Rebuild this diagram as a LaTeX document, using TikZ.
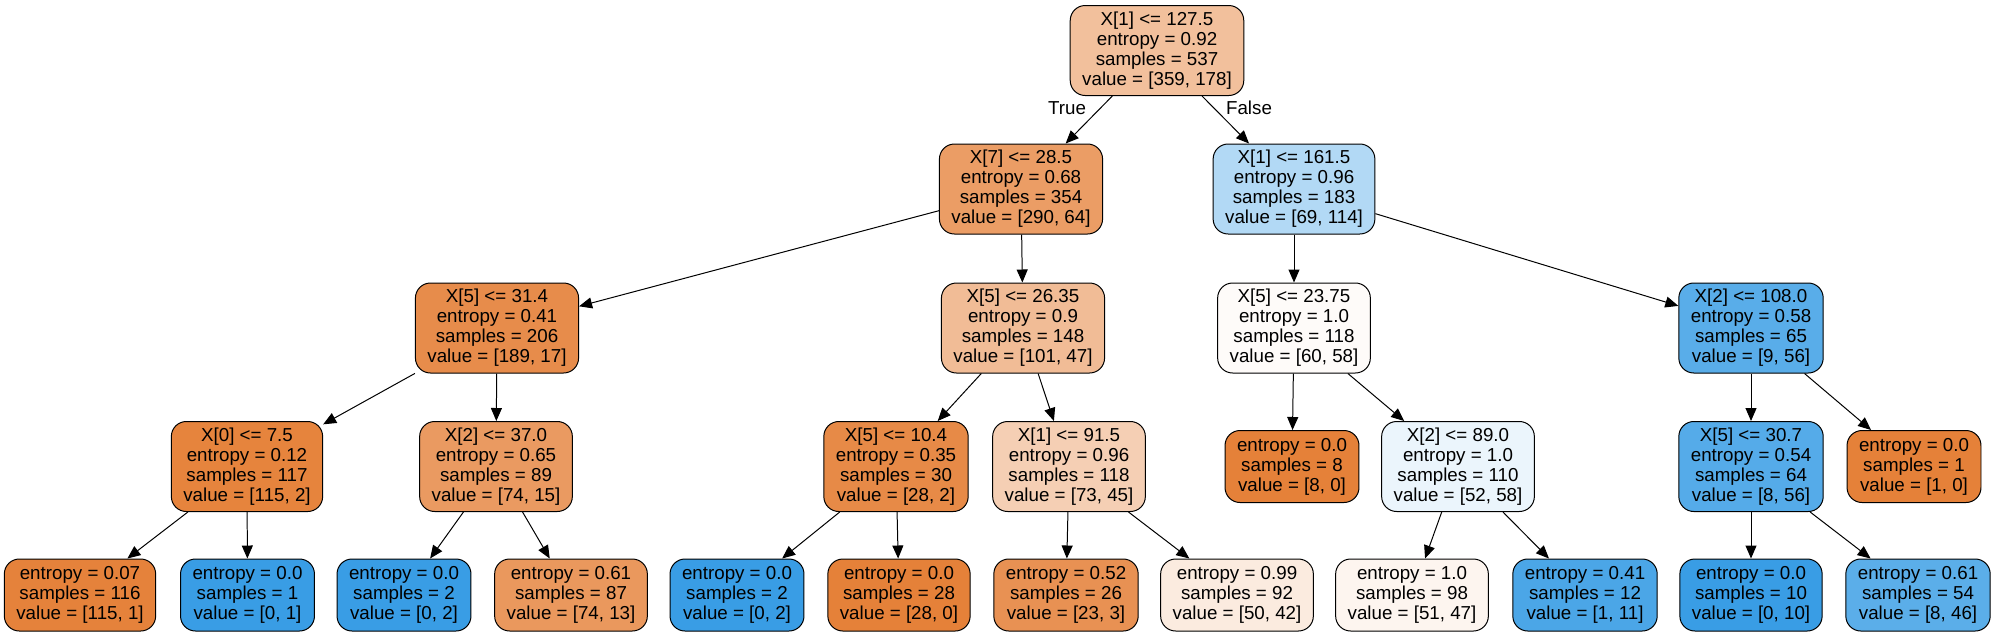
\documentclass[tikz,border=0pt]{standalone}
\usepackage{fontspec}
\setmainfont{Liberation Sans}
\usetikzlibrary{arrows.meta}
\definecolor{orng}{HTML}{E58139}
\definecolor{blu}{HTML}{399DE5}

\begin{document}
\begin{tikzpicture}[x=0.3mm, y=-0.3mm,
              box/.style = {shape=rectangle, draw, rounded corners=4.5mm, align=center,
                            inner xsep=3.6mm, inner ysep=0pt, line width=0.85pt,
                            font=\fontsize{16}{17.07}\selectfont},
              split/.style = {box, minimum height=27mm},
              leaf/.style = {box, minimum height=21.6mm},
              tag/.style = {font=\fontsize{16}{17.07}\selectfont},
              arr/.style = {-{Triangle[length=3.9mm,width=3.3mm]}, line width=0.85pt}]
  \useasboundingbox (0,0) rectangle (1995,636);
  % level 0 and 1
  \node[split, fill=orng!50!white] (root) at (1157,50.5) {X[1] <= 127.5\\entropy = 0.92\\samples = 537\\value = [359, 178]};
  \node[split, fill=orng!78!white] (n1) at (1021,189) {X[7] <= 28.5\\entropy = 0.68\\samples = 354\\value = [290, 64]};
  \node[split, fill=blu!39!white] (n2) at (1294,189) {X[1] <= 161.5\\entropy = 0.96\\samples = 183\\value = [69, 114]};
  % level 2
  \node[split, fill=orng!91!white] (n3) at (497,328) {X[5] <= 31.4\\entropy = 0.41\\samples = 206\\value = [189, 17]};
  \node[split, fill=orng!53!white] (n4) at (1023,328) {X[5] <= 26.35\\entropy = 0.9\\samples = 148\\value = [101, 47]};
  \node[split, fill=orng!3!white] (n5) at (1294,328) {X[5] <= 23.75\\entropy = 1.0\\samples = 118\\value = [60, 58]};
  \node[split, fill=blu!84!white] (n6) at (1751,328) {X[2] <= 108.0\\entropy = 0.58\\samples = 65\\value = [9, 56]};
  % level 3
  \node[split, fill=orng!98!white] (n7) at (247,466.5) {X[0] <= 7.5\\entropy = 0.12\\samples = 117\\value = [115, 2]};
  \node[split, fill=orng!80!white] (n8) at (496,466.5) {X[2] <= 37.0\\entropy = 0.65\\samples = 89\\value = [74, 15]};
  \node[split, fill=orng!93!white] (n9) at (896,466.5) {X[5] <= 10.4\\entropy = 0.35\\samples = 30\\value = [28, 2]};
  \node[split, fill=orng!38!white] (n10) at (1069,466.5) {X[1] <= 91.5\\entropy = 0.96\\samples = 118\\value = [73, 45]};
  \node[leaf, fill=orng] (n11) at (1292,466.5) {entropy = 0.0\\samples = 8\\value = [8, 0]};
  \node[split, fill=blu!10!white] (n12) at (1458,466.5) {X[2] <= 89.0\\entropy = 1.0\\samples = 110\\value = [52, 58]};
  \node[split, fill=blu!86!white] (n13) at (1751,466.5) {X[5] <= 30.7\\entropy = 0.54\\samples = 64\\value = [8, 56]};
  \node[leaf, fill=orng] (n14) at (1914,466.5) {entropy = 0.0\\samples = 1\\value = [1, 0]};
  % level 4
  \node[leaf, fill=orng!99!white] (l1) at (80,595) {entropy = 0.07\\samples = 116\\value = [115, 1]};
  \node[leaf, fill=blu] (l2) at (247.5,595) {entropy = 0.0\\samples = 1\\value = [0, 1]};
  \node[leaf, fill=blu] (l3) at (404,595) {entropy = 0.0\\samples = 2\\value = [0, 2]};
  \node[leaf, fill=orng!82!white] (l4) at (571,595) {entropy = 0.61\\samples = 87\\value = [74, 13]};
  \node[leaf, fill=blu] (l5) at (737,595) {entropy = 0.0\\samples = 2\\value = [0, 2]};
  \node[leaf, fill=orng] (l6) at (899,595) {entropy = 0.0\\samples = 28\\value = [28, 0]};
  \node[leaf, fill=orng!87!white] (l7) at (1066,595) {entropy = 0.52\\samples = 26\\value = [23, 3]};
  \node[leaf, fill=orng!16!white] (l8) at (1237,595) {entropy = 0.99\\samples = 92\\value = [50, 42]};
  \node[leaf, fill=orng!8!white] (l9) at (1412,595) {entropy = 1.0\\samples = 98\\value = [51, 47]};
  \node[leaf, fill=blu!91!white] (l10) at (1585,595) {entropy = 0.41\\samples = 12\\value = [1, 11]};
  \node[leaf, fill=blu] (l11) at (1751,595) {entropy = 0.0\\samples = 10\\value = [0, 10]};
  \node[leaf, fill=blu!83!white] (l12) at (1918,595) {entropy = 0.61\\samples = 54\\value = [8, 46]};
  % edge labels
  \node[tag] (yes) at (1067,108) {True};
  \node[tag] (no) at (1249,108) {False};
  % edges
  \draw[arr] (root) -- (n1);
  \draw[arr] (root) -- (n2);
  \draw[arr] (n1) -- (n3);
  \draw[arr] (n1) -- (n4);
  \draw[arr] (n2) -- (n5);
  \draw[arr] (n2) -- (n6);
  \draw[arr] (n3) -- (n7);
  \draw[arr] (n3) -- (n8);
  \draw[arr] (n4) -- (n9);
  \draw[arr] (n4) -- (n10);
  \draw[arr] (n5) -- (n11);
  \draw[arr] (n5) -- (n12);
  \draw[arr] (n6) -- (n13);
  \draw[arr] (n6) -- (n14);
  \draw[arr] (n7) -- (l1);
  \draw[arr] (n7) -- (l2);
  \draw[arr] (n8) -- (l3);
  \draw[arr] (n8) -- (l4);
  \draw[arr] (n9) -- (l5);
  \draw[arr] (n9) -- (l6);
  \draw[arr] (n10) -- (l7);
  \draw[arr] (n10) -- (l8);
  \draw[arr] (n12) -- (l9);
  \draw[arr] (n12) -- (l10);
  \draw[arr] (n13) -- (l11);
  \draw[arr] (n13) -- (l12);
\end{tikzpicture}
\end{document}
